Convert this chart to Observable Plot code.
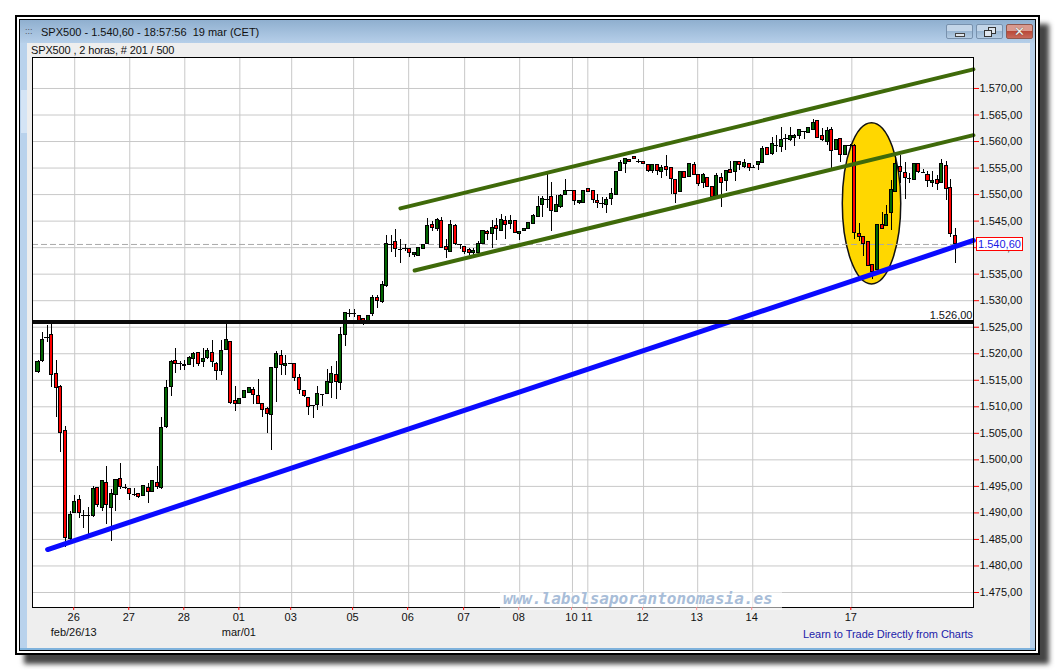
<!DOCTYPE html>
<html><head><meta charset="utf-8">
<script src="https://cdn.jsdelivr.net/npm/d3@7"></script>
<script src="https://cdn.jsdelivr.net/npm/@observablehq/plot@0.6"></script>
<style>
html,body{margin:0;padding:0;background:#fff;width:1055px;height:670px;overflow:hidden;font-family:"Liberation Sans",Arial,sans-serif}
.abs{position:absolute;box-sizing:border-box}
#chart svg{position:absolute;left:0;top:0;background:transparent}
</style></head><body>
<div class="abs" style="left:15px;top:15px;width:1025px;height:640px;background:#fff;border:2px solid #000;box-shadow:9px 9px 5px #444"></div>
<div class="abs" style="left:19px;top:19px;width:1017px;height:632px;background:#b9d2ec;border:1px solid #000"></div>
<div class="abs" style="left:20px;top:20px;width:1015px;height:23px;background:linear-gradient(#8fafcf,#b6cfe9)"></div>
<div class="abs" style="left:21px;top:90px;width:6px;height:43px;background:#d4e4f5"></div>
<div class="abs" style="left:27px;top:43px;width:1003px;height:605px;background:#eeeeee"></div>
<div class="abs" style="left:20px;top:648px;width:1015px;height:2px;background:#7fb2dc"></div>
<div class="abs" style="left:25px;top:27px;font-size:9px;line-height:9px;color:#556;letter-spacing:0">:::</div>
<div class="abs" style="left:41px;top:25px;font:11px/15px 'Liberation Sans',Arial,sans-serif;color:#111;white-space:pre">SPX500 - 1.540,60 - 18:57:56  19 mar (CET)</div>
<div class="abs" style="left:31px;top:44px;font-size:11px;color:#111;white-space:pre;letter-spacing:-.14px">SPX500 , 2 horas, # 201 / 500</div>
<div class="abs" style="left:946px;top:24px;width:27px;height:15px;border:1px solid #7891ad;border-radius:2px;background:linear-gradient(#c3d5e8 45%,#9ab6d2 50%,#b5cce3)"><div class="abs" style="left:8px;top:8px;width:10px;height:4px;background:#dfe6ee;border:1px solid #444"></div></div>
<div class="abs" style="left:976px;top:24px;width:27px;height:15px;border:1px solid #7891ad;border-radius:2px;background:linear-gradient(#c3d5e8 45%,#9ab6d2 50%,#b5cce3)"><div class="abs" style="left:11px;top:2px;width:8px;height:7px;background:#dfe6ee;border:1px solid #333"></div><div class="abs" style="left:7px;top:5px;width:8px;height:7px;background:#dfe6ee;border:1px solid #333"></div></div>
<div class="abs" style="left:1006px;top:24px;width:27px;height:15px;border:1px solid #90584f;border-radius:2px;background:linear-gradient(#d99a8f 45%,#b9493a 50%,#c86a5c);color:#f4f0ee;font:bold 13px/13px 'DejaVu Sans',sans-serif;text-align:center;text-shadow:0 0 1px #333">✕</div>

<div id="chart"></div>

<div class="abs" style="left:500px;top:592px;width:282px;height:18px;background:rgba(255,255,255,.55)"></div>
<div class="abs" style="left:503px;top:589px;font:oblique bold 16px/20px 'DejaVu Sans Mono',monospace;color:#a8bdd8;white-space:pre">www.labolsaporantonomasia.es</div>
<div class="abs" style="left:976px;top:237px;width:47px;height:14px;background:#fff;border:1px solid #f00;color:#1a1ae6;font-size:11px;line-height:12px;text-align:center">1.540,60</div>
<div class="abs" style="left:700px;top:627px;width:273px;text-align:right;font-size:11px;line-height:14px;color:#2222aa;letter-spacing:-.05px">Learn to Trade Directly from Charts</div>

<script>
const openPrice=[1516.5,1518.6,1523.1,1523.6,1516.2,1513.8,1505.4,1485.1,1490,1492.4,
1489.5,1489.5,1489.5,1494.7,1491,1495.7,1491,1493.4,1496.4,1494.8,
1494.5,1493.4,1493.6,1493.1,1494.7,1494,1495.7,1494.7,1506.2,1513.7,
1518.7,1518.1,1517.7,1517.8,1519,1520.1,1518.5,1519.2,1520.1,1518,
1516.8,1520.7,
1522.3,1511,1510.5,1511.6,1512.6,1513.2,1512,1510.5,1509.5,1508.5,
1517.4,1519.6,1517.7,1518.1,1518.1,1515.5,1512.9,1511.6,1510.2,1510.4,
1512.3,1512.5,1514.4,1516,1514.5,1523.6,1527.6,1527.6,1527.1,1526.5,
1526.2,1527.5,1530.5,1529.7,1532.7,1540.6,1541,1539.7,1539.8,1539.7,
1538.6,1538.5,1539.8,1540.7,1544.2,1543.5,
1545,1540.1,1539.1,1544.1,1540.6,1540.1,1539.6,1539,1538.9,1540.7,
1543,1542.5,1544,1543.1,1545,1544.4,1545,1542.6,1543.1,1543.6,
1544.4,1545.7,1548,1549.1,1549.6,1546.7,1547.6,1549.9,1550.7,1550.6,
1548.4,1548.4,1551.1,1550.6,1548.8,1548.4,1548.1,1549.1,1549.9,1554.4,
1555.8,1556.5,1557,1556.2,
1556.2,1555.6,1554.5,1555.6,1554.2,1555.2,1555,1552.8,1550.4,1554.3,
1553.3,1555.6,1553.6,1552.1,1553.2,1551.4,1549.8,1553.2,1552.5,1554.6,
1554.2,1556.2,1555.2,1555.8,1555.2,1555.5,1555.9,1558.8,1557.6,1559.2,
1558.9,1560.5,1560.2,1560.6,1561.1,1561.9,1561.6,1562.1,1563.8,1561.1,
1560,1562.2,1558.4,
1560.5,1557.4,1559.2,1559.2,1542.6,1542,1541,1536.7,1535.8,1544.3,
1544.1,1546.5,1550.4,1555.2,1554.1,1553.1,1552.8,1555.7,1554.2,1553.7,
1552.2,1552.8,1552.1,1555.3,1551.2,1542.2];
const closePrice=[1518.5,1522.6,1523.1,1516,1513.6,1505,1485.3,1489.6,1492,1490,
1489.5,1489.5,1494.5,1491.5,1496,1491.5,1493.5,1496.2,1494.8,1494.8,
1493.5,1493.4,1493,1495,1494,1496,1494.8,1506,1513.6,1518.5,
1518,1518.1,1517.9,1519.2,1520,1518.1,1519,1520.5,1518.4,1516.8,
1520.5,1522.6,
1510.8,1510.5,1511.5,1512.9,1513.5,1512.2,1510.6,1509.4,1508.6,1517.4,
1520,1517.9,1518,1518.1,1515.4,1513.2,1512,1510,1510.2,1512.4,
1512.3,1514.7,1516.2,1514.6,1523.5,1527.7,1527.6,1527.6,1526.2,1526.2,
1527.1,1530.5,1530,1533,1540.6,1540.6,1539.8,1539.7,1539.8,1539,
1539,1540,1540.5,1544.1,1543.7,1545.2,
1539.9,1539.6,1544.3,1540.6,1540.6,1539.1,1539,1539.3,1540.6,1543.2,
1542.6,1543.7,1543.5,1545.2,1544.3,1545.1,1542.8,1543,1543.5,1544.7,
1546,1547.6,1549.2,1549.1,1546.9,1548.1,1549.8,1550.7,1550.7,1548.8,
1548.8,1550.6,1550.5,1548.9,1548.4,1548.4,1549,1550.1,1554.2,1555.9,
1556.7,1556.1,1556.8,1556.2,
1555.8,1554.5,1555.6,1554.4,1555,1554.7,1553,1550.1,1554.3,1553.1,
1555.7,1553.7,1552,1553.6,1551.4,1549.6,1553.5,1552.1,1554.5,1554.1,
1556.2,1555.6,1556,1555,1555.2,1556.2,1558.6,1557.4,1559.6,1559.2,
1560.3,1560.5,1561.1,1561.1,1562.1,1561.9,1562.6,1563.5,1560.7,1560.2,
1562,1558.2,1560.3,
1557.4,1559.2,1559.2,1542.7,1542.1,1540.7,1536.6,1535.5,1544.2,1543.6,
1546.2,1550.8,1555.7,1554.3,1553.1,1553.1,1555.8,1554.2,1554.2,1552.5,
1552.6,1552,1555.7,1551,1542.6,1540.7];
const highPrice=[1518.7,1524,1525.3,1526,1518.7,1514.1,1506.3,1490.3,1493.2,1493.2,
1490.5,1491,1495,1494.8,1496,1498.7,1494.5,1496.2,1499.3,1495.4,
1494.5,1494.6,1493.6,1495,1495.6,1496.2,1498.7,1508,1515,1518.7,
1521,1518.6,1518.7,1519.5,1520.2,1520.2,1521,1521,1522.5,1518.4,
1522.5,1526,
1522.3,1513.8,1511.5,1512.9,1513.7,1513.7,1515.2,1510.5,1509.9,1517.4,
1520.5,1520.7,1519.6,1518.1,1518.1,1516,1512.9,1511.6,1510.3,1513.8,
1512.4,1517.1,1517.6,1518.5,1525,1527.7,1528.4,1528.4,1527.1,1526.7,
1527.1,1530.9,1530.9,1533.6,1542.2,1542.2,1543.5,1541.5,1540.5,1539.7,
1539,1540,1540.5,1545.4,1545,1545.5,
1545.6,1541.6,1545.1,1544.3,1540.6,1540.2,1539.8,1539.8,1541.1,1543.2,
1543.2,1545.1,1545.5,1546.2,1545.9,1546,1545.1,1543,1543.6,1544.7,
1546.2,1549.6,1549.6,1553.8,1552.2,1549.8,1550.1,1552.8,1550.7,1550.6,
1548.9,1550.6,1551.1,1550.8,1550.1,1549.4,1549.5,1551.1,1554.2,1556.4,
1556.8,1556.6,1557.2,1556.7,
1556.2,1555.6,1555.7,1555.6,1555.5,1557.4,1555,1552.8,1554.3,1554.3,
1555.8,1556,1553.6,1554,1553.3,1551.5,1554,1554,1554.5,1556.2,
1556.2,1556.2,1556.7,1555.8,1555.5,1556.2,1559.1,1558.9,1560.7,1561.1,
1562.6,1561.3,1562.6,1561.3,1562.1,1561.9,1562.6,1564.1,1563.9,1562.4,
1562.7,1562.6,1560.4,
1560.5,1559.3,1559.4,1559.4,1544.6,1542,1541.1,1536.8,1544.3,1546.7,
1547.9,1552.6,1557.7,1557.4,1556.1,1553.9,1555.8,1555.9,1554.7,1554.4,
1554.4,1553.6,1556.6,1556.3,1552.8,1543.6];
const lowPrice=[1516.3,1518.3,1522.2,1513.7,1508,1501.4,1483.5,1484.8,1490,1489,
1487,1486,1489.2,1491,1490.3,1487.8,1484.6,1490.3,1494.5,1494.5,
1492.4,1493.1,1492.7,1493,1491.8,1494,1494.5,1494.5,1506,1512,
1516.3,1516.8,1516.8,1517.7,1517.5,1517.6,1517.5,1519,1517.5,1515,
1515.9,1520.6,
1510.5,1509.1,1510.4,1511.5,1512.5,1510.4,1510.4,1508,1504.9,1501.7,
1510.8,1515.9,1515.9,1518,1514.8,1512.4,1511.8,1508.3,1507.8,1509.3,
1510,1512.4,1511.5,1511.3,1513,1521.3,1526.9,1526.9,1525.6,1525.3,
1526.2,1527,1528.5,1529.5,1532.4,1539.1,1538.2,1537,1539.3,1538.2,
1538.2,1538.4,1539.7,1540.5,1543,1543,
1539.8,1538,1539,1540.4,1539.6,1538.8,1538.5,1538.2,1538.8,1540.6,
1541.3,1539.8,1541.3,1543.1,1541.5,1543.5,1542.6,1541.3,1543,1543.5,
1544.3,1545.6,1545.7,1547.3,1543,1546.6,1547.3,1549.8,1550.7,1547.9,
1548.2,1548.3,1550.4,1548.3,1547.4,1547.3,1546.5,1548,1549.8,1554.3,
1554,1556,1556.7,1555.9,
1555.7,1554.2,1553.9,1553.6,1553,1553.5,1550.1,1548.4,1550.4,1553,
1553.2,1553.6,1551.5,1551.2,1551.3,1548.9,1549.7,1547.6,1550.6,1554,
1552.4,1554.5,1555,1554.3,1554.9,1554.5,1555.8,1557.3,1557.4,1558,
1558,1558.3,1560.1,1559,1560.3,1560.3,1561.5,1562,1560.6,1560,
1559.3,1555,1558.3,
1556.1,1557.3,1558.8,1541.6,1541.2,1538.3,1536.5,1534,1535,1543.5,
1544,1543.2,1550.3,1552,1549,1552,1552.7,1554,1553.9,1551.4,
1551.4,1550.8,1552,1548.9,1542,1537];

const dayTicks=[8,20,32,44,55.3,68.8,80.8,93,105,116.5,119.85,132,143.8,155.8,177.4];
const dayLabels=["26","27","28","01","03","05","06","07","08","10","11","12","13","14","17"];
const monthTicks=[8,44];
const monthLabels=["feb/26/13","mar/01"];
const priceTicks=d3.range(1475,1571,5);

const blueLine=[{x:2.1,y:1483.1},{x:203.9,y:1541.35}];
const upperGreen=[{x:79,y:1547.4},{x:203.9,y:1573.6}];
const lowerGreen=[{x:82.1,y:1535.7},{x:203.9,y:1561.2}];
const supportLevel=1526;
const lastPrice=1540.6;
const ellipseBox={cx:181.8,cy:1548.27,rx:6.37,ry:15.2};

const bars=openPrice.map((o,i)=>({i,o,c:closePrice[i],h:highPrice[i],l:lowPrice[i]}));
const bodies=bars.filter(b=>b.o!==b.c);
const dojis=bars.filter(b=>b.o===b.c);
const loc=d3.formatLocale({decimal:",",thousands:".",grouping:[3],currency:["",""]});
const fmt=loc.format(",.2f");
const dayFmt=d=>dayLabels[dayTicks.indexOf(d)];

const ellipseMark=(index,{x,y})=>{
  const e=document.createElementNS("http://www.w3.org/2000/svg","ellipse");
  e.setAttribute("cx",x(ellipseBox.cx));
  e.setAttribute("cy",y(ellipseBox.cy));
  e.setAttribute("rx",Math.abs(x(ellipseBox.cx+ellipseBox.rx)-x(ellipseBox.cx)));
  e.setAttribute("ry",Math.abs(y(ellipseBox.cy+ellipseBox.ry)-y(ellipseBox.cy)));
  e.setAttribute("fill","#ffd700");
  e.setAttribute("stroke","#111");
  e.setAttribute("stroke-width","1.5");
  return e;
};

const chart=Plot.plot({
  width:1055,height:670,
  marginLeft:32,marginRight:82,marginTop:57,marginBottom:63,
  style:{background:"transparent",fontFamily:"'Liberation Sans',Arial,sans-serif",fontSize:"11px",color:"#111"},
  x:{type:"linear",domain:[-1.2,203.92]},
  y:{type:"linear",domain:[1472.17,1575.84]},
  marks:[
    Plot.frame({fill:"white",stroke:"none"}),
    Plot.gridY(priceTicks,{stroke:"#c8c8c8",strokeOpacity:1,strokeWidth:1}),
    Plot.gridX(dayTicks,{stroke:"#c8c8c8",strokeOpacity:1,strokeWidth:1}),
    ellipseMark,
    Plot.ruleY([lastPrice],{stroke:"#aaaaaa",strokeWidth:1,strokeDasharray:"6,3"}),
    Plot.ruleX(bars,{x:"i",y1:"l",y2:"h",stroke:"black",strokeWidth:1,shapeRendering:"crispEdges"}),
    Plot.ruleY(dojis,{y:"o",x1:d=>d.i-0.5,x2:d=>d.i+0.5,stroke:"black",strokeWidth:1,shapeRendering:"crispEdges"}),
    Plot.rect(bodies,{x1:d=>d.i-0.33,x2:d=>d.i+0.33,y1:"o",y2:"c",
      fill:d=>d.c>d.o?"#006400":"#ff0000",stroke:"black",strokeWidth:1,shapeRendering:"crispEdges"}),
    Plot.line(upperGreen,{x:"x",y:"y",stroke:"#3f6a0a",strokeWidth:4}),
    Plot.line(lowerGreen,{x:"x",y:"y",stroke:"#3f6a0a",strokeWidth:4}),
    Plot.line(blueLine,{x:"x",y:"y",stroke:"#0a0aff",strokeWidth:5}),
    Plot.ruleY([supportLevel],{stroke:"#0a0a0a",strokeWidth:4}),
    Plot.text([supportLevel],{y:d=>d,frameAnchor:"right",text:d=>fmt(d),textAnchor:"end",dx:-1,dy:-6,fill:"#111",fontSize:11}),
    Plot.frame({stroke:"black",strokeWidth:1}),
    Plot.axisY(priceTicks,{anchor:"right",tickSize:5,tickPadding:1,stroke:"#f00",fill:"#111",tickFormat:fmt,label:null,fontSize:11}),
    Plot.axisX(dayTicks,{anchor:"bottom",tickSize:3,tickPadding:3,dx:-1,stroke:"#f00",fill:"#111",tickFormat:dayFmt,label:null,fontSize:11}),
    Plot.axisX(monthTicks,{anchor:"bottom",tickSize:0,tickPadding:21,dx:-1,fill:"#111",tickFormat:d=>monthLabels[monthTicks.indexOf(d)],label:null,fontSize:11})
  ]
});
document.getElementById("chart").appendChild(chart);
</script>
</body></html>
